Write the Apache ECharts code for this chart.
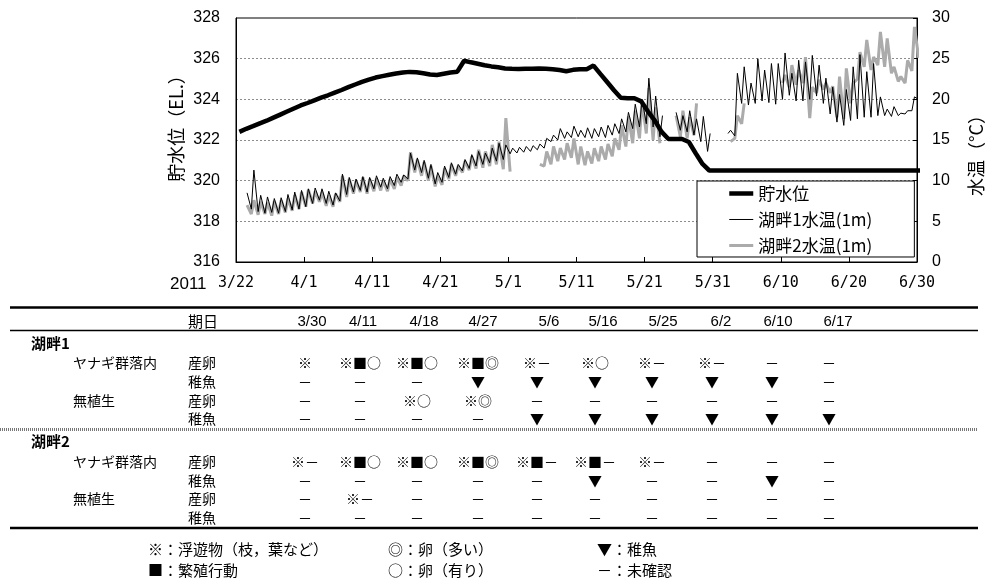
<!DOCTYPE html>
<html>
<head>
<meta charset="utf-8">
<script src="https://cdn.jsdelivr.net/npm/echarts@6/dist/echarts.min.js"></script>
<style>
html,body{margin:0;padding:0;background:#fff}
#main{width:986px;height:581px}
</style>
</head>
<body>
<div id="main"></div>
<script>
// x axis: day index from 3/22 (0) to 6/30 (100)
const dayLabels = ['3/22','4/1','4/11','4/21','5/1','5/11','5/21','5/31','6/10','6/20','6/30'];

// Reservoir water level (EL. m), one value per day
const levelDaily = [
  322.40,322.55,322.68,322.82,322.95,323.10,323.25,323.40,323.55,323.70,
  323.82,323.95,324.08,324.20,324.33,324.46,324.60,324.73,324.86,324.97,
  325.07,325.14,325.21,325.27,325.32,325.35,325.33,325.28,325.22,325.20,
  325.26,325.32,325.36,325.90,325.82,325.75,325.68,325.62,325.58,325.52,
  325.50,325.49,325.50,325.51,325.52,325.50,325.48,325.44,325.38,325.45,
  325.48,325.48,325.66,325.25,324.85,324.45,324.08,324.05,324.05,323.90,
  323.40,322.95,322.40,322.05,322.05,322.05,321.90,321.35,320.82,320.50,
  320.50,320.50,320.50,320.50,320.50,320.50,320.50,320.50,320.50,320.50,
  320.50,320.50,320.50,320.50,320.50,320.50,320.50,320.50,320.50,320.50,
  320.50,320.50,320.50,320.50,320.50,320.50,320.50,320.50,320.50,320.50,
  320.50
];

// Lakeside 1 water temperature at 1 m (°C): daily morning low / afternoon high
const lake1Low = [
  null,null,6.5,6.2,6.0,6.1,6.0,6.2,6.4,6.5,
  6.8,7.2,7.6,7.2,7.0,7.5,8.3,8.6,8.8,8.6,
  9.0,9.2,9.0,9.4,9.8,10.2,11.3,11.0,10.3,9.6,
  9.8,10.4,10.8,11.2,11.5,11.8,12.0,12.2,12.4,12.6,
  13.3,13.4,13.5,13.6,13.8,14.0,14.8,15.0,15.2,15.3,
  15.4,15.3,15.2,15.4,15.3,15.6,15.8,16.0,16.4,16.6,
  17.0,16.6,15.4,null,null,16.2,16.0,15.6,14.8,13.6,
  null,null,15.8,15.5,19.5,19.3,19.5,19.8,19.6,19.4,
  20.0,20.5,19.8,19.8,20.0,20.4,19.5,18.2,17.2,16.8,
  17.4,17.6,17.8,17.8,18.0,18.0,17.9,18.0,18.2,18.6,
  20.0
];
const lake1High = [
  null,8.5,11.3,8.2,8.0,7.8,7.9,8.3,8.6,8.8,
  9.0,9.1,9.0,8.7,8.5,10.8,10.4,10.2,10.5,10.4,
  10.6,10.3,10.5,10.8,10.7,13.4,12.8,12.5,12.0,11.0,
  11.8,12.2,12.0,12.6,13.2,13.6,13.4,14.0,14.6,14.4,
  14.0,14.1,14.2,14.3,14.5,15.2,15.6,16.4,16.0,16.7,
  16.2,16.5,16.4,16.6,16.8,17.0,17.6,18.4,19.4,20.0,
  22.6,20.4,18.0,null,18.4,18.0,18.6,17.6,17.9,15.8,
  null,null,16.2,23.2,24.0,22.0,25.0,23.6,24.4,24.4,
  25.7,23.2,24.8,24.6,25.4,24.2,22.6,21.5,20.6,21.2,
  24.0,25.5,23.4,24.4,20.3,18.8,19.1,18.3,18.6,20.3,
  null
];

// Lakeside 2 water temperature at 1 m (°C): daily morning low / afternoon high
const lake2Low = [
  null,null,5.9,5.8,5.9,5.7,5.9,6.1,6.3,6.5,
  6.8,7.2,7.4,6.9,6.8,7.4,8.0,8.4,8.6,8.4,
  8.7,8.8,8.7,9.0,9.4,10.0,11.0,10.6,10.0,9.3,
  9.5,10.2,10.6,11.0,11.3,11.5,11.6,11.8,12.0,11.4,
  11.1,null,null,null,null,11.8,12.0,12.4,12.6,12.8,
  12.0,11.9,12.1,12.4,12.6,13.0,13.8,14.2,14.6,15.2,
  15.8,15.0,14.6,null,null,15.4,15.2,15.6,null,null,
  null,null,null,15.2,17.0,null,null,null,null,null,
  22.0,21.5,21.8,22.0,17.7,20.8,21.2,20.8,17.8,17.6,
  19.5,22.5,24.0,23.6,24.2,24.0,23.2,22.2,22.0,23.5,
  25.1
];
const lake2High = [
  null,7.0,7.6,7.4,7.3,7.5,7.6,7.8,8.2,8.6,
  8.9,8.7,8.6,8.2,8.4,10.6,10.2,10.0,10.4,10.2,
  10.3,10.0,10.2,10.4,10.6,13.5,12.6,12.3,11.8,10.6,
  11.5,12.0,11.8,12.4,13.0,13.8,13.6,14.4,14.8,17.7,
  null,null,null,null,12.0,13.6,14.2,14.0,14.6,15.2,
  14.2,13.6,14.0,14.2,14.5,15.2,16.8,17.9,18.6,19.8,
  21.4,19.0,null,null,18.0,18.6,17.8,19.5,null,null,
  null,null,14.8,18.0,19.5,null,null,null,null,null,
  23.0,24.2,23.6,25.2,21.5,22.4,22.0,21.6,22.8,23.8,
  22.0,25.8,27.3,25.2,28.3,27.5,24.0,22.8,24.8,28.9,
  null
];

// Survey table
const surveyDates = ['3/30','4/11','4/18','4/27','5/6','5/16','5/25','6/2','6/10','6/17'];
const site1WillowSpawn = ['※','※■○','※■○','※■◎','※－','※○','※－','※－','－','－'];
const site1WillowFry   = ['－','－','－','▼','▼','▼','▼','▼','▼','－'];
const site1BareSpawn   = ['－','－','※○','※◎','－','－','－','－','－','－'];
const site1BareFry     = ['－','－','－','－','▼','▼','▼','▼','▼','▼'];
const site2WillowSpawn = ['※－','※■○','※■○','※■◎','※■－','※■－','※－','－','－','－'];
const site2WillowFry   = ['－','－','－','－','－','▼','－','－','▼','－'];
const site2BareSpawn   = ['－','※－','－','－','－','－','－','－','－','－'];
const site2BareFry     = ['－','－','－','－','－','－','－','－','－','－'];
const noteRow1 = ['※：浮遊物（枝，葉など）','◎：卵（多い）','▼：稚魚'];
const noteRow2 = ['■：繁殖行動','○：卵（有り）','－：未確認'];

function tempPoints(low, high) {
  const pts = [];
  for (let d = 0; d < low.length; d++) {
    pts.push([d + 0.25, low[d]]);
    pts.push([d + 0.625, high[d]]);
  }
  return pts;
}
const levelPoints = levelDaily.map((v, d) => [d + 0.5, v]);

const SANS = "'Liberation Sans','Noto Sans CJK JP',sans-serif";
const CJK = "'Noto Sans CJK JP','Liberation Sans',sans-serif";

// ---- table drawn with graphic elements ----
const graphic = [];
function txt(x, y, text, opt) {
  graphic.push({type:'text', x, y, silent:true, style:Object.assign({
    text, fill:'#000', fontSize:14, fontFamily:CJK, align:'left', verticalAlign:'middle'
  }, opt || {})});
}
function hline(y, x1, x2, w, dash, color) {
  graphic.push({type:'line', silent:true, shape:{x1, y1:y, x2, y2:y},
    style:{stroke:color || '#000', lineWidth:w, lineDash:dash || null}});
}

txt(170, 284, '2011', {fontFamily:SANS, fontSize:17});
txt(176, 124, '貯水位（EL.）', {fontSize:18, align:'center'});
graphic[graphic.length-1].rotation = Math.PI/2;
txt(976, 151, '水温（°C）', {fontSize:18, align:'center'});
graphic[graphic.length-1].rotation = Math.PI/2;

const colX = [305, 360, 417, 478, 537, 595, 652, 712, 772, 829];
const headX = [312, 363, 424, 483, 549, 603, 663, 721, 778, 838];

hline(307.5, 10, 978, 2.5);
txt(188, 321.5, '期日', {fontSize:15});
surveyDates.forEach((d, i) => txt(headX[i], 321.5, d, {fontFamily:SANS, fontSize:15, align:'center'}));
hline(330.5, 10, 978, 1.5);

const sections = [
  {title:'湖畔1', y:343, rows:[
    ['ヤナギ群落内','産卵',site1WillowSpawn],['','稚魚',site1WillowFry],
    ['無植生','産卵',site1BareSpawn],['','稚魚',site1BareFry]]},
  {title:'湖畔2', y:441.5, rows:[
    ['ヤナギ群落内','産卵',site2WillowSpawn],['','稚魚',site2WillowFry],
    ['無植生','産卵',site2BareSpawn],['','稚魚',site2BareFry]]}
];
sections.forEach(sec => {
  txt(31, sec.y, sec.title, {fontSize:15, fontWeight:'bold'});
  sec.rows.forEach((r, k) => {
    const y = sec.y + 20 + k * 18.7;
    if (r[0]) txt(73, y, r[0], {fontSize:14});
    txt(188, y, r[1], {fontSize:14});
    r[2].forEach((s, i) => txt(colX[i], y, s, {fontSize:14, align:'center'}));
  });
});
hline(429.5, 0, 978, 3, [1, 1], '#777');
hline(528, 10, 978, 2.5);

const noteX = [148, 388, 597];
noteRow1.forEach((t, i) => txt(noteX[i], 549.5, t, {fontSize:15}));
noteRow2.forEach((t, i) => txt(noteX[i], 570, t, {fontSize:15}));

const chart = echarts.init(document.getElementById('main'), null, {renderer:'canvas'});
chart.setOption({
  animation:false,
  backgroundColor:'#fff',
  grid:{left:236, right:69, top:18, bottom:319, show:true, borderColor:'#000', borderWidth:1, backgroundColor:'transparent'},
  legend:{
    orient:'vertical', left:697, top:181,
    padding:[4, 42, 3, 30], itemGap:9, itemWidth:24, itemHeight:14,
    backgroundColor:'#fff', borderColor:'#000', borderWidth:1, borderRadius:0,
    itemStyle:{opacity:0},
    textStyle:{fontSize:17, color:'#000', fontFamily:CJK},
    data:[
      {name:'貯水位', lineStyle:{width:4.5, color:'#000'}},
      {name:'湖畔1水温(1m)', lineStyle:{width:1, color:'#000'}},
      {name:'湖畔2水温(1m)', lineStyle:{width:3, color:'#ababab'}}
    ]
  },
  xAxis:{
    type:'value', min:0, max:100, interval:10,
    axisLine:{lineStyle:{color:'#000', width:1}},
    axisTick:{inside:true, length:5, lineStyle:{color:'#000'}},
    axisLabel:{margin:14, color:'#000', fontSize:15, fontFamily:"'DejaVu Sans Mono',monospace",
      formatter: v => dayLabels[Math.round(v / 10)] || ''},
    splitLine:{show:false}
  },
  yAxis:[
    {type:'value', min:316, max:328, interval:2, position:'left',
     axisLine:{show:true, lineStyle:{color:'#000', width:1}},
     axisTick:{show:false},
     axisLabel:{margin:16, color:'#000', fontSize:16, fontFamily:SANS},
     splitLine:{show:true, showMinLine:false, showMaxLine:false, lineStyle:{color:'#8c8c8c', type:[2,2], width:1}}},
    {type:'value', min:0, max:30, interval:5, position:'right',
     axisLine:{show:true, lineStyle:{color:'#000', width:1}},
     axisTick:{show:true, inside:true, length:4, lineStyle:{color:'#000'}},
     axisLabel:{margin:15, color:'#000', fontSize:16, fontFamily:SANS},
     splitLine:{show:false}}
  ],
  series:[
    {name:'湖畔2水温(1m)', type:'line', yAxisIndex:1, symbol:'none', connectNulls:false,
     data:tempPoints(lake2Low, lake2High), color:'#ababab',
     lineStyle:{color:'#ababab', width:3}, z:2},
    {name:'湖畔1水温(1m)', type:'line', yAxisIndex:1, symbol:'none', connectNulls:false,
     data:tempPoints(lake1Low, lake1High), color:'#000',
     lineStyle:{color:'#000', width:1}, z:3},
    {name:'貯水位', type:'line', yAxisIndex:0, symbol:'none',
     data:levelPoints, color:'#000',
     lineStyle:{color:'#000', width:4.5}, z:4}
  ],
  graphic:graphic
});
</script>
</body>
</html>
